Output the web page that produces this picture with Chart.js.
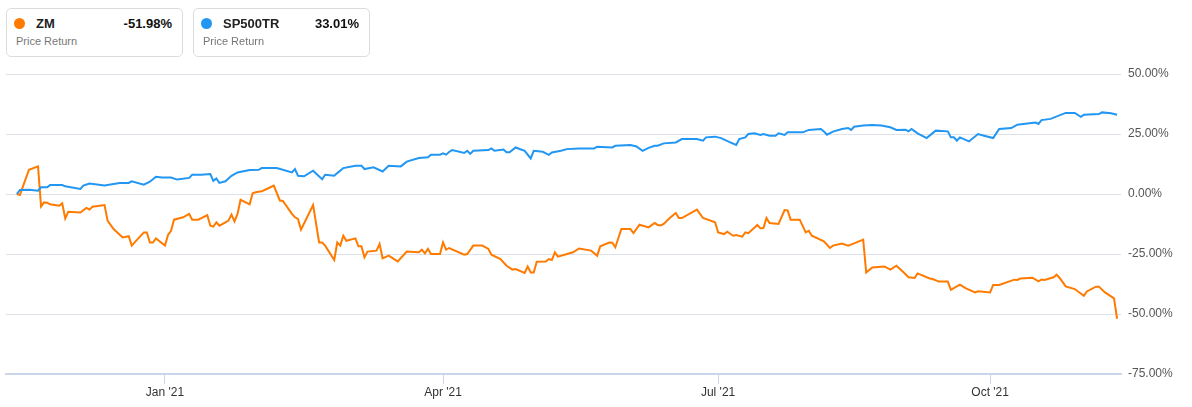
<!DOCTYPE html>
<html>
<head>
<meta charset="utf-8">
<script src="https://cdn.jsdelivr.net/npm/chart.js@4"></script>
<style>
  body { margin: 0; background: #fff; font-family: "Liberation Sans", Arial, sans-serif; }
  #wrap { position: relative; width: 1192px; height: 407px; }
  canvas { position: absolute; left: 0; top: 0; }
  .card { position: absolute; top: 8px; width: 175px; height: 47px; border: 1px solid #dcdcdc; border-radius: 5px; background: #fff; }
  .dot { position: absolute; left: 7px; top: 9px; width: 11px; height: 11px; border-radius: 50%; }
  .name { position: absolute; left: 29px; top: 7px; font-size: 13px; font-weight: bold; color: #222; }
  .pct { position: absolute; right: 10px; top: 7px; font-size: 13px; font-weight: bold; color: #111; }
  .sub { position: absolute; left: 9px; top: 26px; font-size: 11px; color: #777; }
</style>
</head>
<body>
<div id="wrap">
  <canvas id="perfChart" width="1192" height="407"></canvas>
  <div class="card" style="left:6px"><span class="dot" style="background:#ff7b00"></span><span class="name">ZM</span><span class="pct">-51.98%</span><span class="sub">Price Return</span></div>
  <div class="card" style="left:193px"><span class="dot" style="background:#2196f3"></span><span class="name">SP500TR</span><span class="pct">33.01%</span><span class="sub">Price Return</span></div>
</div>
<script>
// days since 13 Nov 2020
const zmDays = [0, 1, 4, 7, 8, 9, 10, 11, 14, 15, 16, 17, 21, 23, 24, 25, 29, 30, 32, 35, 37, 38, 42, 43, 44, 45, 46, 49, 50, 51, 52, 55, 57, 58, 60, 63, 64, 65, 66, 67,
  69, 70, 71, 72, 73, 74, 77, 78, 79, 81, 83, 85, 87, 88, 91, 92, 93, 94, 98, 100, 101, 102, 105, 106, 107, 108, 109, 112, 113, 114, 115, 116, 119, 120, 121, 123, 126, 129, 133, 134, 135, 136, 137, 140, 141, 142,
  143, 148, 149, 151, 154, 156, 157, 160, 162, 164, 165, 168, 169, 170, 171, 172, 175, 176, 177, 178, 179, 182, 184, 186, 190, 192, 193, 196, 197, 198, 200, 203, 204, 206, 209, 211, 212, 213, 214, 216,
  218, 219, 220, 225, 227, 231, 232, 234, 235, 237, 238, 240, 241, 242, 245, 246, 247, 248, 249, 252, 254, 255, 256, 259, 261, 262, 263, 267, 269, 270, 273, 275, 277, 280, 281, 283, 287,
  289, 291, 293, 295, 297, 298, 302, 303, 305, 308, 309, 312, 314, 317, 318, 322, 323, 325, 330, 331, 332, 336, 338, 339, 340, 343, 344, 345, 347, 350, 353, 354, 357, 358, 360, 363, 364];
const zmValues = [0, -0.4, 10.1, 11.5, -5.2, -3.5, -3.6, -4.3, -4.9, -3.9, -10.2, -7.4, -7.7, -5.8, -6.5, -5.3, -4.6, -11.1, -14.6, -18.1, -17.6, -21.5, -16, -16, -20.2, -20.2, -18.5, -21.5, -17.1, -15.3, -10.7, -9.7, -8.3, -10.7, -10.7, -8.8, -13.2, -13.6, -11.8, -13.2,
  -11.8, -11.1, -8.6, -11.4, -8.3, -2.4, -4.3, 0.3, 0.7, 1.1, 2.3, 3.5, -2.7, -2.9, -8.3, -9.7, -10.4, -14.9, -4.6, -20.2, -20.2, -21.5, -27.5, -20.2, -21.5, -17.4, -19.5, -18.5, -21.8, -21.8, -26.4, -24, -23.6, -20.8, -26.8, -25.7, -28.1, -24, -24.3, -23.2, -24.7, -22.9, -25, -25, -20.2, -23.2,
  -22.5, -25.3, -25, -21.5, -21.5, -22.9, -25.3, -27.1, -29.9, -31.5, -31.3, -32.9, -30.2, -32.7, -32.7, -28.2, -28.1, -27.1, -27.5, -24.3, -26.1, -25, -24.3, -22.7, -23.6, -25.7, -21.8, -20.2, -20.3, -22.2, -14.6, -14.6, -16.3, -12.8, -13.9, -12.1, -12.9, -13.1, -12.5, -10,
  -7.9, -10, -10, -6.5, -10, -11.8, -16, -16.7, -15.7, -17.4, -17.1, -17.8, -16, -16.3, -12.9, -14.3, -14.2, -10, -12.1, -12.5, -6.7, -6.8, -10.7, -10.7, -16, -15.3, -17.4, -19.7, -22.5, -21.5, -20.6, -21.5, -20.6, -19, -32.7, -30.6, -30.2,
  -31.5, -29.9, -32.2, -34.7, -35, -33.1, -35.2, -35.4, -36.5, -36.5, -39.9, -37.8, -39.3, -41, -40.5, -41, -37.9, -37.9, -35.7, -35.8, -35.2, -34.9, -36.4, -35.6, -35.8, -34.7, -33.6, -35, -38.5, -39.6, -42.4, -40.6, -38.6, -38.6, -41, -43.5, -51.98];

const spDays = [0, 1, 4, 7, 8, 10, 11, 15, 16, 21, 22, 24, 29, 34, 37, 38, 42, 44, 46, 48, 51, 53, 57, 58, 61, 64, 65, 66, 67,
  69, 71, 73, 77, 80, 81, 86, 91, 92, 93, 95, 98, 101, 102, 105, 106, 108, 112, 114, 115, 118, 121, 123, 127, 129, 133, 136, 137, 140, 141, 142, 143, 144,
  148, 149, 150, 151, 156, 157, 158, 161, 162, 163, 165, 168, 170, 171, 174, 176, 177, 180, 182, 186, 191, 192, 197, 198, 203, 205, 207, 209, 211, 212, 214,
  218, 220, 225, 227, 228, 231, 233, 236, 238, 239, 241, 242, 244, 246, 247, 249, 251, 252, 254, 255, 260, 262, 266, 267, 268, 270, 273, 275, 276, 277, 280, 283, 286,
  289, 291, 294, 295, 296, 298, 301, 304, 308, 309, 310, 311, 312, 315, 318, 320, 323, 325, 329, 331, 337, 338, 339, 342, 347, 350, 352, 353, 358, 359, 362, 364];
const spValues = [0, 1.7, 1.8, 1.4, 2.8, 2.8, 3.7, 3.7, 3.2, 2.1, 3.5, 4.4, 3.5, 4.6, 4.6, 5.3, 3.9, 5.1, 7.2, 6.9, 6.9, 6, 6.7, 8, 8, 8.3, 5.5, 6.5, 4.6,
  5.3, 7.6, 9, 10, 10.1, 10.8, 10.8, 9, 10.4, 7.6, 7.4, 9.7, 6.2, 8, 7.6, 8.7, 10.8, 11.8, 11.8, 10.4, 11.1, 9.4, 11.8, 11.5, 13.5, 15, 15.3, 16.4, 16.4, 16.9, 16.4, 17.5, 18.3,
  17.1, 18, 16.7, 18, 18.3, 19, 18, 18.5, 17.4, 17.4, 19.4, 18, 14.8, 18, 17.6, 16.3, 17.3, 18, 18.7, 19, 19, 19.7, 19.4, 20.1, 20.4, 19.8, 18, 19.2, 20.1, 20.1, 21.1,
  21.5, 22.9, 22.9, 22.2, 23.6, 23.9, 23.3, 21.5, 20.4, 22.9, 23.6, 25, 25.3, 24.6, 25, 24.3, 24.3, 25.3, 24.6, 25.7, 25.7, 26.7, 27.1, 26.1, 24.7, 26, 27.1, 27.5, 26.7, 28, 28.5, 28.7, 28.5,
  27.8, 26.7, 26.8, 26.1, 27.1, 25.3, 23.3, 26.4, 26.1, 23.6, 23.6, 22.2, 23.6, 21.9, 25, 24.3, 23.3, 27.1, 27.5, 28.9, 29.8, 29.2, 30.8, 31.3, 33.8, 33.8, 32.2, 33, 33.3, 34, 33.6, 33.01];

const tickDays = [49, 141, 232, 322];
const tickLabels = ["Jan '21", "Apr '21", "Jul '21", "Oct '21"];
const yTicks = [-75, -50, -25, 0, 25, 50];

const toPoints = (days, vals) => days.map((d, i) => ({ x: d, y: vals[i] }));

new Chart(document.getElementById('perfChart'), {
  type: 'line',
  data: {
    datasets: [
      { label: 'SP500TR', data: toPoints(spDays, spValues), borderColor: '#2196f3', borderWidth: 2, pointRadius: 0, tension: 0 },
      { label: 'ZM', data: toPoints(zmDays, zmValues), borderColor: '#ff7b00', borderWidth: 2, pointRadius: 0, tension: 0 }
    ]
  },
  options: {
    responsive: false,
    animation: false,
    devicePixelRatio: 1,
    layout: { padding: { left: 6, top: 74, right: 0, bottom: 0 } },
    plugins: { legend: { display: false }, tooltip: { enabled: false } },
    scales: {
      x: {
        type: 'linear',
        min: -3.6,
        max: 365.3,
        afterBuildTicks: (scale) => { scale.ticks = tickDays.map(v => ({ value: v })); },
        afterFit: (scale) => { scale.height = 33; },
        grid: { drawOnChartArea: false, drawTicks: true, tickLength: 10, tickColor: '#ccd6eb' },
        border: { display: true, color: '#ccd6eb', width: 2 },
        ticks: {
          padding: 1,
          maxRotation: 0,
          autoSkip: false,
          color: '#333',
          font: { family: '"Liberation Sans", Arial, sans-serif', size: 12 },
          callback: (v, i) => tickLabels[i]
        }
      },
      y: {
        position: 'right',
        min: -75,
        max: 50,
        afterBuildTicks: (scale) => { scale.ticks = yTicks.map(v => ({ value: v })); },
        afterFit: (scale) => { scale.width = 71; },
        grid: { color: '#dde1ea', drawTicks: false },
        border: { display: false },
        ticks: {
          padding: 7,
          color: '#555',
          font: { family: '"Liberation Sans", Arial, sans-serif', size: 12 },
          callback: (v) => v.toFixed(2) + '%'
        }
      }
    }
  }
});
</script>
</body>
</html>
